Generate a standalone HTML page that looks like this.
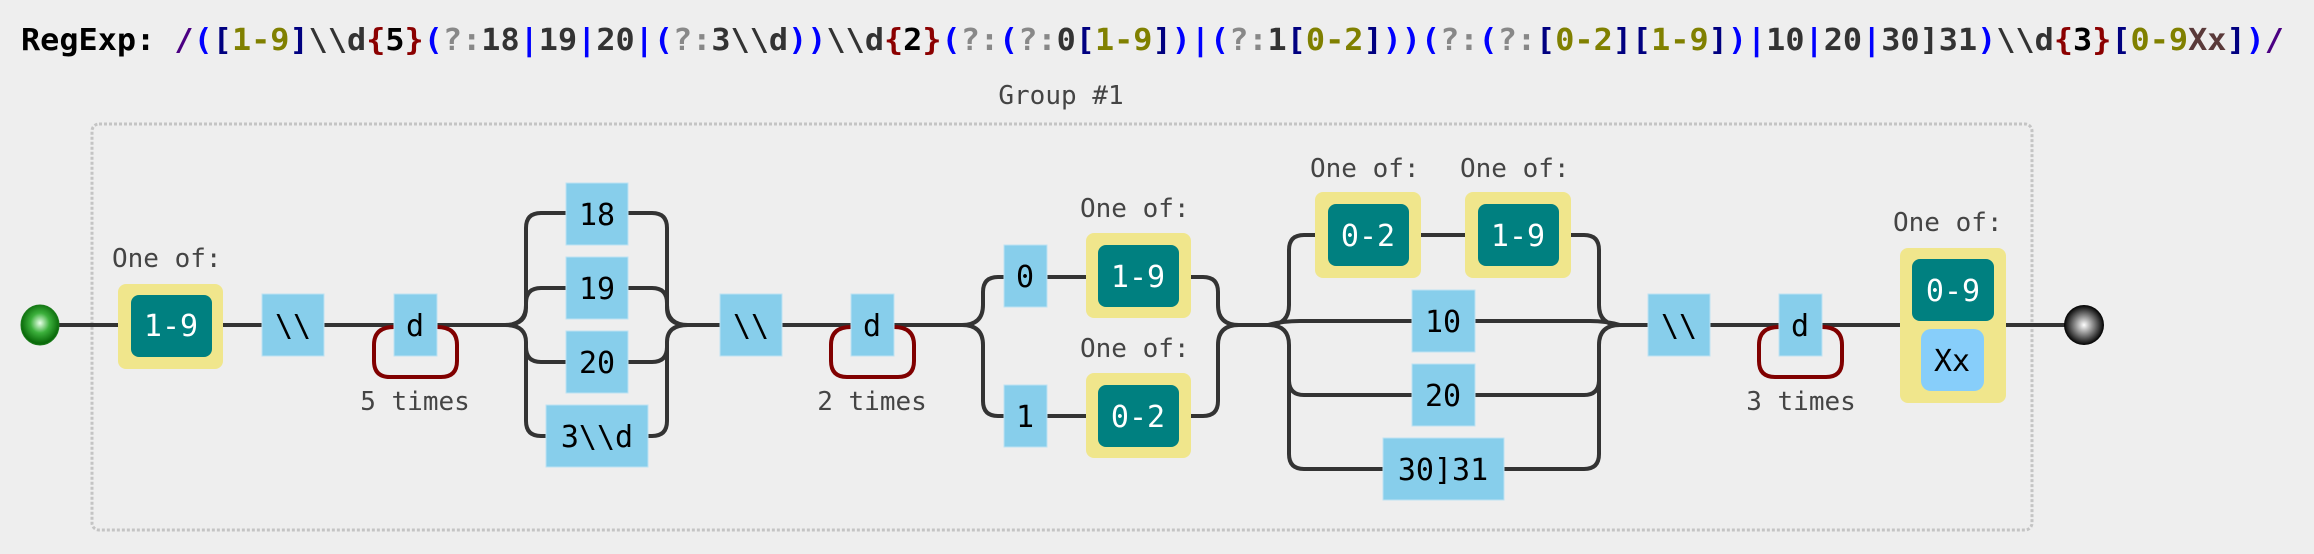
<!DOCTYPE html>
<html><head><meta charset="utf-8"><style>
html,body{margin:0;padding:0;background:#eeeeee;}
svg{display:block}
.t{font-family:"DejaVu Sans Mono","Liberation Mono",monospace;}
.lb{font-size:30px;text-anchor:middle;fill:#000}
.lw{font-size:30px;text-anchor:middle;fill:#fff}
.sm{font-size:26px;fill:#444}
.ln{fill:none;stroke:#333;stroke-width:4}
.lp{fill:none;stroke:#800000;stroke-width:4}
.bx{fill:#87ceeb;stroke:#bde3f3;stroke-width:1}
.ye{fill:#f0e68c}
.te{fill:#008080}
</style></head><body>
<svg width="2314" height="554" viewBox="0 0 2314 554" xmlns="http://www.w3.org/2000/svg">
<defs>
<radialGradient id="g1" cx="0.5" cy="0.45" r="0.5"><stop offset="0" stop-color="#e8ffe8"/><stop offset="0.5" stop-color="#3cb03c"/><stop offset="1" stop-color="#0a6a0a"/></radialGradient>
<radialGradient id="g2" cx="0.5" cy="0.5" r="0.5"><stop offset="0" stop-color="#fff"/><stop offset="0.6" stop-color="#666"/><stop offset="1" stop-color="#000"/></radialGradient>
</defs>
<rect width="2314" height="554" fill="#eeeeee"/>
<!-- title -->
<text class="t" x="21" y="50" font-size="30" font-weight="bold" textLength="2263" lengthAdjust="spacingAndGlyphs"><tspan fill="#000">RegExp: </tspan><tspan fill="#4b0082">/</tspan><tspan fill="#0000ff">(</tspan><tspan fill="#000080">[</tspan><tspan fill="#808000">1-9</tspan><tspan fill="#000080">]</tspan><tspan fill="#333">\\d</tspan><tspan fill="#8b0000">{</tspan><tspan fill="#000">5</tspan><tspan fill="#8b0000">}</tspan><tspan fill="#0000ff">(</tspan><tspan fill="#888">?:</tspan><tspan fill="#333">18</tspan><tspan fill="#0000ff">|</tspan><tspan fill="#333">19</tspan><tspan fill="#0000ff">|</tspan><tspan fill="#333">20</tspan><tspan fill="#0000ff">|(</tspan><tspan fill="#888">?:</tspan><tspan fill="#333">3\\d</tspan><tspan fill="#0000ff">))</tspan><tspan fill="#333">\\d</tspan><tspan fill="#8b0000">{</tspan><tspan fill="#000">2</tspan><tspan fill="#8b0000">}</tspan><tspan fill="#0000ff">(</tspan><tspan fill="#888">?:</tspan><tspan fill="#0000ff">(</tspan><tspan fill="#888">?:</tspan><tspan fill="#333">0</tspan><tspan fill="#000080">[</tspan><tspan fill="#808000">1-9</tspan><tspan fill="#000080">]</tspan><tspan fill="#0000ff">)|(</tspan><tspan fill="#888">?:</tspan><tspan fill="#333">1</tspan><tspan fill="#000080">[</tspan><tspan fill="#808000">0-2</tspan><tspan fill="#000080">]</tspan><tspan fill="#0000ff">))(</tspan><tspan fill="#888">?:</tspan><tspan fill="#0000ff">(</tspan><tspan fill="#888">?:</tspan><tspan fill="#000080">[</tspan><tspan fill="#808000">0-2</tspan><tspan fill="#000080">][</tspan><tspan fill="#808000">1-9</tspan><tspan fill="#000080">]</tspan><tspan fill="#0000ff">)|</tspan><tspan fill="#333">10</tspan><tspan fill="#0000ff">|</tspan><tspan fill="#333">20</tspan><tspan fill="#0000ff">|</tspan><tspan fill="#333">30]31</tspan><tspan fill="#0000ff">)</tspan><tspan fill="#333">\\d</tspan><tspan fill="#8b0000">{</tspan><tspan fill="#000">3</tspan><tspan fill="#8b0000">}</tspan><tspan fill="#000080">[</tspan><tspan fill="#808000">0-9</tspan><tspan fill="#5a3a3a">Xx</tspan><tspan fill="#000080">]</tspan><tspan fill="#0000ff">)</tspan><tspan fill="#4b0082">/</tspan></text>

<!-- group -->
<text class="t sm" x="1061" y="104" text-anchor="middle">Group #1</text>
<rect x="92" y="124" width="1940" height="406" rx="7" fill="none" stroke="#c4c4c4" stroke-width="3" stroke-dasharray="3,2"/>

<!-- main lines -->
<path class="ln" d="M58,325 H118 M223,325 H262 M324,325 H394 M437,325 H510 M683,325 H720 M782,325 H851 M894,325 H968 M1233,325 H1274 M1614,325 H1648 M1710,325 H1779 M1822,325 H1900 M2006,325 H2066"/>

<!-- start/end -->
<ellipse cx="40" cy="325" rx="19" ry="20" fill="url(#g1)" stroke="#1a7a1a" stroke-width="1"/>
<circle cx="2084" cy="325" r="20" fill="url(#g2)"/>

<!-- 1-9 -->
<text class="t sm" x="112" y="267">One of:</text>
<rect class="ye" x="118" y="284" width="105" height="85" rx="8"/>
<rect class="te" x="131" y="295" width="81" height="62" rx="8"/>
<text class="t lw" x="171" y="336">1-9</text>

<rect class="bx" x="262" y="294" width="62" height="62"/>
<text class="t lb" x="293" y="336">\\</text>

<path class="lp" d="M437,327 Q457,327 457,345 V361 Q457,377 441,377 H390 Q374,377 374,361 V345 Q374,327 394,327"/>
<rect class="bx" x="394" y="294" width="43" height="62"/>
<text class="t lb" x="415" y="336">d</text>
<text class="t sm" x="415" y="410" text-anchor="middle">5 times</text>

<!-- alt 1 -->
<path class="ln" d="M505,325 Q526,325 526,305 V228 Q526,213 541,213 H566
M505,325 Q526,325 526,308 V303 Q526,288 541,288 H566
M505,325 Q526,325 526,342 V347 Q526,362 541,362 H566
M505,325 Q526,325 526,342 V421 Q526,436 541,436 H546
M628,213 H652 Q667,213 667,228 V305 Q667,325 688,325
M628,288 H652 Q667,288 667,303 V308 Q667,325 688,325
M628,362 H652 Q667,362 667,347 V342 Q667,325 688,325
M648,436 H652 Q667,436 667,421 V342 Q667,325 688,325"/>
<rect class="bx" x="566" y="183" width="62" height="62"/><text class="t lb" x="597" y="225">18</text>
<rect class="bx" x="566" y="257" width="62" height="62"/><text class="t lb" x="597" y="299">19</text>
<rect class="bx" x="566" y="331" width="62" height="62"/><text class="t lb" x="597" y="373">20</text>
<rect class="bx" x="546" y="405" width="102" height="62"/><text class="t lb" x="597" y="447">3\\d</text>

<rect class="bx" x="720" y="294" width="62" height="62"/>
<text class="t lb" x="751" y="336">\\</text>
<path class="lp" d="M894,327 Q914,327 914,345 V361 Q914,377 898,377 H847 Q831,377 831,361 V345 Q831,327 851,327"/>
<rect class="bx" x="851" y="294" width="43" height="62"/>
<text class="t lb" x="872" y="336">d</text>
<text class="t sm" x="872" y="410" text-anchor="middle">2 times</text>

<!-- alt 2 -->
<path class="ln" d="M962,325 Q983,325 983,305 V292 Q983,277 998,277 H1004
M962,325 Q983,325 983,345 V401 Q983,416 998,416 H1004
M1047,277 H1086 M1047,416 H1086
M1191,277 H1203 Q1218,277 1218,292 V305 Q1218,325 1239,325
M1191,416 H1203 Q1218,416 1218,401 V345 Q1218,325 1239,325"/>
<rect class="bx" x="1004" y="245" width="43" height="62"/><text class="t lb" x="1025" y="287">0</text>
<rect class="bx" x="1004" y="385" width="43" height="62"/><text class="t lb" x="1025" y="427">1</text>
<text class="t sm" x="1080" y="217">One of:</text>
<rect class="ye" x="1086" y="233" width="105" height="85" rx="8"/>
<rect class="te" x="1098" y="245" width="81" height="62" rx="8"/>
<text class="t lw" x="1138" y="287">1-9</text>
<text class="t sm" x="1080" y="357">One of:</text>
<rect class="ye" x="1086" y="373" width="105" height="85" rx="8"/>
<rect class="te" x="1098" y="385" width="81" height="62" rx="8"/>
<text class="t lw" x="1138" y="427">0-2</text>

<!-- alt 3 -->
<path class="ln" d="M1268,325 Q1289,325 1289,305 V250 Q1289,235 1304,235 H1315
M1268,325 Q1282,321 1300,321 H1412
M1268,325 Q1289,325 1289,345 V380 Q1289,395 1304,395 H1412
M1268,325 Q1289,325 1289,345 V454 Q1289,469 1304,469 H1383
M1421,235 H1465
M1571,235 H1584 Q1599,235 1599,250 V305 Q1599,325 1620,325
M1475,321 H1590 Q1606,321 1620,325
M1475,395 H1584 Q1599,395 1599,380 V345 Q1599,325 1620,325
M1504,469 H1584 Q1599,469 1599,454 V345 Q1599,325 1620,325"/>
<text class="t sm" x="1310" y="177">One of:</text>
<rect class="ye" x="1315" y="192" width="106" height="86" rx="8"/>
<rect class="te" x="1328" y="204" width="81" height="62" rx="8"/>
<text class="t lw" x="1368" y="246">0-2</text>
<text class="t sm" x="1460" y="177">One of:</text>
<rect class="ye" x="1465" y="192" width="106" height="86" rx="8"/>
<rect class="te" x="1478" y="204" width="81" height="62" rx="8"/>
<text class="t lw" x="1518" y="246">1-9</text>
<rect class="bx" x="1412" y="290" width="63" height="62"/><text class="t lb" x="1443" y="332">10</text>
<rect class="bx" x="1412" y="364" width="63" height="62"/><text class="t lb" x="1443" y="406">20</text>
<rect class="bx" x="1383" y="438" width="121" height="62"/><text class="t lb" x="1443" y="480">30]31</text>

<rect class="bx" x="1648" y="294" width="62" height="62"/>
<text class="t lb" x="1679" y="336">\\</text>
<path class="lp" d="M1822,327 Q1842,327 1842,345 V361 Q1842,377 1826,377 H1775 Q1759,377 1759,361 V345 Q1759,327 1779,327"/>
<rect class="bx" x="1779" y="294" width="43" height="62"/>
<text class="t lb" x="1800" y="336">d</text>
<text class="t sm" x="1801" y="410" text-anchor="middle">3 times</text>

<!-- final -->
<text class="t sm" x="1893" y="231">One of:</text>
<rect class="ye" x="1900" y="248" width="106" height="155" rx="8"/>
<rect class="te" x="1912" y="259" width="82" height="62" rx="8"/>
<text class="t lw" x="1953" y="301">0-9</text>
<rect x="1921" y="329" width="63" height="62" rx="10" fill="#87cefa"/>
<text class="t lb" x="1952" y="371">Xx</text>
</svg>
</body></html>
